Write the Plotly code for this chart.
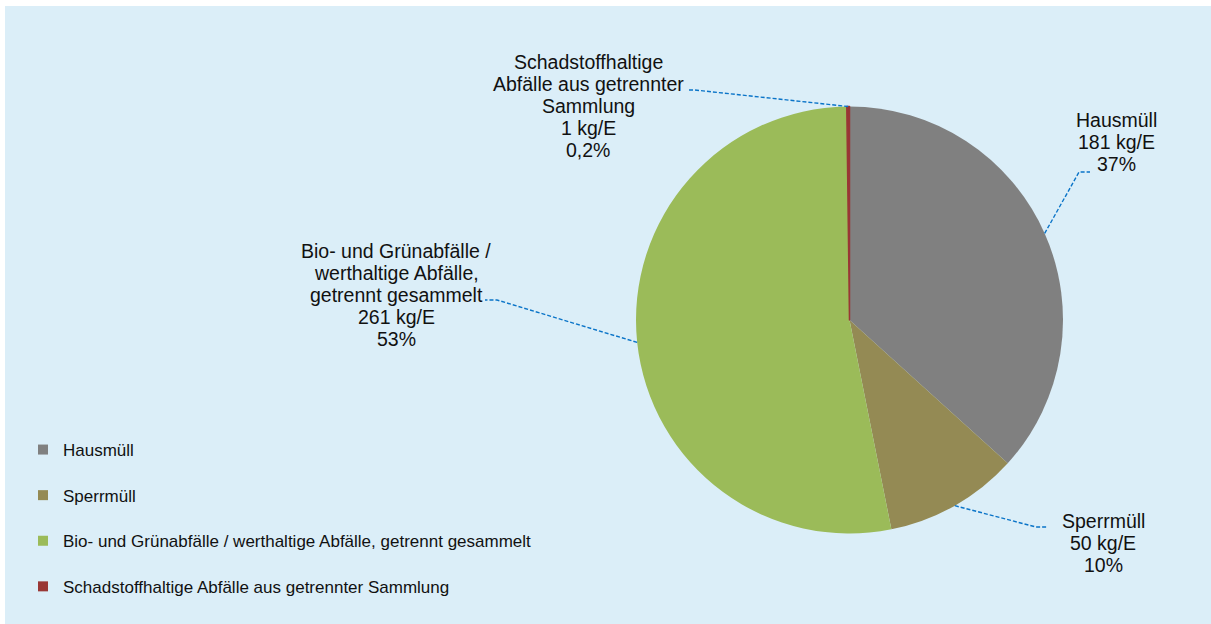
import math
import plotly.graph_objects as go

# ---- data ----
categories = [
    "Hausmüll",
    "Sperrmüll",
    "Bio- und Grünabfälle / werthaltige Abfälle, getrennt gesammelt",
    "Schadstoffhaltige Abfälle aus getrennter Sammlung",
]
values_kg = [181, 50, 261, 1]
pct_labels = ["37%", "10%", "53%", "0,2%"]
label_names = [
    ["Hausmüll"],
    ["Sperrmüll"],
    ["Bio- und Grünabfälle /", "werthaltige Abfälle,", "getrennt gesammelt"],
    ["Schadstoffhaltige", "Abfälle aus getrennter", "Sammlung"],
]
colors = ["#808080", "#948A54", "#9BBB59", "#993735"]

# ---- layout geometry (pixels) ----
W, H = 1211, 624
cx, cy, R = 849.5, 320.0, 213.5
FONT = "Liberation Sans, Arial, sans-serif"
TXT = "#111111"
LINE = "#0A74C8"
LINE_STEP = 22

# label centres and leader elbow/end points (pixels)
label_pos = [(1116, 142), (1103, 543), (396, 295), (588, 106)]
leader_pts = [
    [(1079, 172), (1090, 172)],
    [(1036, 527), (1047, 527)],
    [(497, 300), (485, 300)],
    [(695, 90), (689, 90)],
]


def px(x):
    return x / W


def py(y):
    return 1 - y / H


fig = go.Figure()

fig.add_trace(
    go.Pie(
        values=values_kg,
        labels=categories,
        sort=False,
        direction="clockwise",
        rotation=0,
        marker=dict(colors=colors, line=dict(width=[0, 0, 0, 1.5], color=colors)),
        textinfo="none",
        hoverinfo="label+value+percent",
        showlegend=False,
        domain=dict(x=[px(cx - R), px(cx + R)], y=[py(cy + R), py(cy - R)]),
    )
)

# legend entries
for i, (cat, col) in enumerate(zip(categories, colors)):
    fig.add_trace(
        go.Scatter(
            x=[None],
            y=[None],
            mode="markers",
            marker=dict(symbol="square", size=10, color=col),
            name=cat,
            legendgroup=f"g{i}",
            showlegend=True,
        )
    )

# labels + leader lines
total = sum(values_kg)
cum = 0
annotations = []
shapes = [
    dict(
        type="rect", xref="paper", yref="paper",
        x0=px(5), x1=1.0, y0=0.0, y1=py(6),
        fillcolor="#DBEEF8", line=dict(width=0), layer="below",
    )
]
for i, v in enumerate(values_kg):
    theta = 2 * math.pi * (cum + v / 2) / total
    cum += v
    ax = cx + R * math.sin(theta)
    ay = cy - R * math.cos(theta)
    pts = [(ax, ay)] + leader_pts[i]
    path = "M " + " L ".join(f"{px(x)},{py(y)}" for x, y in pts)
    shapes.append(
        dict(type="path", xref="paper", yref="paper", path=path,
             line=dict(color=LINE, width=1.4, dash="4px,2px"))
    )
    lines = label_names[i] + [f"{v} kg/E", pct_labels[i]]
    lx, ly = label_pos[i]
    n = len(lines)
    for k, t in enumerate(lines):
        yy = ly + (k - (n - 1) / 2) * LINE_STEP
        annotations.append(
            dict(x=px(lx), y=py(yy), xref="paper", yref="paper", text=t,
                 showarrow=False, xanchor="center", yanchor="middle", align="center",
                 font=dict(family=FONT, size=19.5, color=TXT))
        )

fig.update_layout(
    width=W,
    height=H,
    margin=dict(l=0, r=0, t=0, b=0, autoexpand=False),
    paper_bgcolor="white",
    plot_bgcolor="rgba(0,0,0,0)",
    xaxis=dict(visible=False),
    yaxis=dict(visible=False),
    shapes=shapes,
    annotations=annotations,
    showlegend=True,
    legend=dict(
        x=px(23), y=py(432), xanchor="left", yanchor="top",
        tracegroupgap=20.5, bgcolor="rgba(0,0,0,0)",
        font=dict(family=FONT, size=17, color=TXT),
    ),
)

fig.write_html(
    "out.html",
    config={"displayModeBar": False},
    post_script="document.body.style.margin='0';document.body.style.overflow='hidden';",
)
